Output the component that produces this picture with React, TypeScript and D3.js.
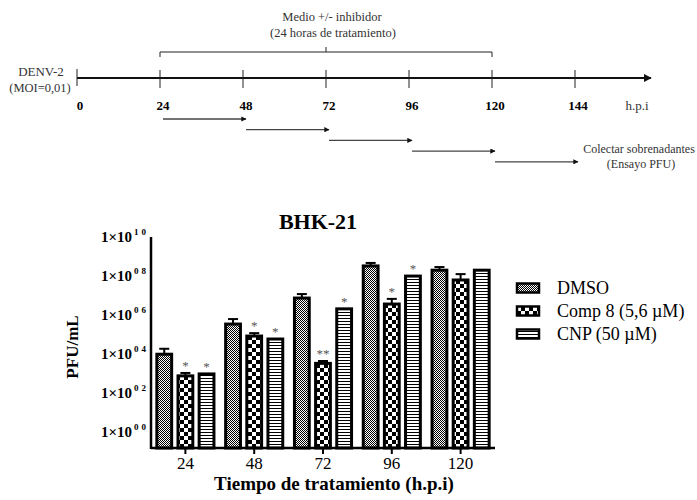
import React, { useEffect, useRef } from 'react'
import * as d3 from 'd3'

// timeline on top
const hours = [0, 24, 48, 72, 96, 120, 144]
const collectSteps = [[24, 48], [48, 72], [72, 96], [96, 120], [120, 144]]

// bar chart data
const timePoints = ['24', '48', '72', '96', '120']
const seriesKeys = ['dmso', 'comp8', 'cnp']
const seriesNames = ['DMSO', 'Comp 8 (5,6 \u00b5M)', 'CNP (50 \u00b5M)']
const dmso = [1.0e4, 3.5e5, 7.5e6, 3.3e8, 2.0e8]
const dmsoErr = [0.9e4, 2.8e5, 4.5e6, 1.4e8, 0.9e8]
const comp8 = [780, 8.5e4, 3400, 3.7e6, 6.3e7]
const comp8Err = [320, 3.5e4, 1100, 3.1e6, 6.3e7]
const cnp = [980, 6.0e4, 2.1e6, 1.0e8, 2.0e8]
const cnpErr = [0, 0, 0, 0, 0]
const comp8Stars = ['*', '*', '**', '*', '']
const cnpStars = ['*', '*', '*', '*', '']
const yExponents = [0, 2, 4, 6, 8, 10]
const yTickSup = ['00', '02', '04', '06', '08', '10']

const SERIF = '"Liberation Serif", "Times New Roman", serif'

export default function App() {
  const ref = useRef<SVGSVGElement>(null)

  useEffect(() => {
    const svg = d3.select(ref.current)
    svg.selectAll('*').remove()
    svg.style('font-family', SERIF)

    // ---------- patterns ----------
    const defs = svg.append('defs')
    const p1 = defs.append('pattern').attr('id', 'pat-dmso').attr('patternUnits', 'userSpaceOnUse')
      .attr('width', 2).attr('height', 2)
    p1.append('rect').attr('width', 2).attr('height', 2).attr('fill', '#fff')
    p1.append('rect').attr('width', 1).attr('height', 1).attr('fill', '#000')
    p1.append('rect').attr('x', 1).attr('y', 1).attr('width', 1).attr('height', 1).attr('fill', '#000')

    const p2 = defs.append('pattern').attr('id', 'pat-comp8').attr('patternUnits', 'userSpaceOnUse')
      .attr('width', 8).attr('height', 8)
    p2.append('rect').attr('width', 8).attr('height', 8).attr('fill', '#fff')
    p2.append('rect').attr('width', 4).attr('height', 4).attr('fill', '#000')
    p2.append('rect').attr('x', 4).attr('y', 4).attr('width', 4).attr('height', 4).attr('fill', '#000')

    const p3 = defs.append('pattern').attr('id', 'pat-cnp').attr('patternUnits', 'userSpaceOnUse')
      .attr('width', 4).attr('height', 3)
    p3.append('rect').attr('width', 4).attr('height', 3).attr('fill', '#fff')
    p3.append('rect').attr('width', 4).attr('height', 1).attr('fill', '#000')

    defs.append('marker').attr('id', 'head').attr('viewBox', '0 0 10 10')
      .attr('refX', 9).attr('refY', 5).attr('markerWidth', 4).attr('markerHeight', 4)
      .attr('markerUnits', 'strokeWidth').attr('orient', 'auto')
      .append('path').attr('d', 'M0,0L10,5L0,10z').attr('fill', '#111')

    // ---------- timeline ----------
    const t = d3.scaleLinear().domain([0, 144]).range([77, 575])
    const lineY = 78

    svg.append('line').attr('x1', t(0)).attr('x2', 651).attr('y1', lineY).attr('y2', lineY)
      .attr('stroke', '#111').attr('stroke-width', 2).attr('marker-end', 'url(#head)')

    svg.selectAll('.htick').data(hours).enter().append('line')
      .attr('x1', d => t(d)).attr('x2', d => t(d))
      .attr('y1', d => d === 0 ? 69 : 70).attr('y2', d => d === 0 ? 86 : 88)
      .attr('stroke', '#222').attr('stroke-width', 1)

    svg.selectAll('.hlabel').data(hours).enter().append('text')
      .attr('x', d => t(d) + 3).attr('y', 110)
      .attr('text-anchor', 'middle').attr('font-size', 13).attr('font-weight', 'bold')
      .text(d => d)
    svg.append('text').attr('x', 637).attr('y', 110).attr('text-anchor', 'middle')
      .attr('font-size', 13).attr('fill', '#333').text('h.p.i')

    svg.append('text').attr('x', 41).attr('y', 76).attr('text-anchor', 'middle')
      .attr('font-size', 13).attr('fill', '#333').text('DENV-2')
    svg.append('text').attr('x', 40).attr('y', 92).attr('text-anchor', 'middle')
      .attr('font-size', 12.5).attr('fill', '#333').text('(MOI=0,01)')

    // bracket for treatment period
    svg.append('path')
      .attr('d', `M${t(24)},57V52H${t(120)}V57M${t(72)},52V47`)
      .attr('fill', 'none').attr('stroke', '#222').attr('stroke-width', 1)
    svg.append('text').attr('x', 332).attr('y', 21).attr('text-anchor', 'middle')
      .attr('font-size', 12.5).attr('fill', '#333').text('Medio +/- inhibidor')
    svg.append('text').attr('x', 333).attr('y', 37).attr('text-anchor', 'middle')
      .attr('font-size', 12.5).attr('fill', '#333').text('(24 horas de tratamiento)')

    svg.selectAll('.collect').data(collectSteps).enter().append('line')
      .attr('x1', d => t(d[0]) + 3).attr('x2', d => t(d[1]) + 3)
      .attr('y1', (d, i) => 119 + i * 10.7).attr('y2', (d, i) => 119 + i * 10.7)
      .attr('stroke', '#444').attr('stroke-width', 1.3).attr('marker-end', 'url(#head)')

    svg.append('text').attr('x', 639).attr('y', 153).attr('text-anchor', 'middle')
      .attr('font-size', 12).attr('fill', '#333').text('Colectar sobrenadantes')
    svg.append('text').attr('x', 641).attr('y', 168).attr('text-anchor', 'middle')
      .attr('font-size', 12).attr('fill', '#333').text('(Ensayo PFU)')

    // ---------- bar chart ----------
    const left = 151, right = 495, top = 237, bottom = 448

    const x0 = d3.scaleBand().domain(timePoints).range([left, right]).paddingInner(0.17).paddingOuter(0.085)
    const x1 = d3.scaleBand().domain(seriesKeys).range([0, x0.bandwidth()]).paddingInner(0.3)
    const y = d3.scaleLog().domain([Math.pow(10, -0.8), 1e10]).range([bottom, top])

    const vals: any = { dmso, comp8, cnp }
    const errs: any = { dmso: dmsoErr, comp8: comp8Err, cnp: cnpErr }
    const stars: any = { dmso: ['', '', '', '', ''], comp8: comp8Stars, cnp: cnpStars }

    const rows = timePoints.flatMap((tp, i) => seriesKeys.map(k => ({
      tp, key: k, v: vals[k][i], e: errs[k][i], star: stars[k][i]
    })))

    const cx = (d: any) => (x0(d.tp) as number) + (x1(d.key) as number) + x1.bandwidth() / 2

    // error bars
    const eb = svg.append('g').selectAll('g').data(rows.filter(d => d.e > 0)).enter().append('g')
      .attr('stroke', '#000').attr('stroke-width', 2)
    eb.append('line').attr('x1', cx).attr('x2', cx).attr('y1', d => y(d.v)).attr('y2', d => y(d.v + d.e))
    eb.append('line').attr('x1', d => cx(d) - 5).attr('x2', d => cx(d) + 5)
      .attr('y1', d => y(d.v + d.e)).attr('y2', d => y(d.v + d.e))

    svg.append('g').selectAll('rect').data(rows).enter().append('rect')
      .attr('x', d => (x0(d.tp) as number) + (x1(d.key) as number))
      .attr('y', d => y(d.v))
      .attr('width', x1.bandwidth())
      .attr('height', d => bottom - y(d.v))
      .attr('fill', d => `url(#pat-${d.key})`)
      .attr('stroke', '#000').attr('stroke-width', 3)

    svg.append('g').selectAll('text').data(rows.filter(d => d.star)).enter().append('text')
      .attr('x', cx).attr('y', d => y(d.v + d.e) - 3)
      .attr('text-anchor', 'middle').attr('font-size', 13).attr('fill', '#555')
      .text(d => d.star)

    // axes
    svg.append('line').attr('x1', left).attr('x2', left).attr('y1', top).attr('y2', bottom + 1)
      .attr('stroke', '#000').attr('stroke-width', 2.5)
    svg.append('line').attr('x1', left).attr('x2', right).attr('y1', bottom).attr('y2', bottom)
      .attr('stroke', '#000').attr('stroke-width', 2.5)
    svg.selectAll('.xtick').data(timePoints).enter().append('line')
      .attr('x1', d => (x0(d) as number) + x0.bandwidth() / 2)
      .attr('x2', d => (x0(d) as number) + x0.bandwidth() / 2)
      .attr('y1', bottom).attr('y2', bottom + 6)
      .attr('stroke', '#000').attr('stroke-width', 2)
    svg.selectAll('.xlabel').data(timePoints).enter().append('text')
      .attr('x', d => (x0(d) as number) + x0.bandwidth() / 2).attr('y', 469)
      .attr('text-anchor', 'middle').attr('font-size', 17).text(d => d)

    const yl = svg.selectAll('.ylabel').data(yExponents).enter().append('text')
      .attr('x', 149).attr('y', d => y(Math.pow(10, d)) + 5)
      .attr('text-anchor', 'end').attr('font-weight', 'bold')
    yl.append('tspan').attr('font-size', 15).text('1\u00d710')
    yl.append('tspan').attr('font-size', 9).attr('dy', -7).attr('dx', 2)
      .attr('letter-spacing', 3)
      .text((d, i) => yTickSup[i])

    svg.append('text').attr('transform', 'translate(78,347) rotate(-90)')
      .attr('text-anchor', 'middle').attr('font-size', 17).attr('font-weight', 'bold').text('PFU/mL')

    svg.append('text').attr('x', 318).attr('y', 229).attr('text-anchor', 'middle')
      .attr('font-size', 22).attr('font-weight', 'bold').text('BHK-21')

    svg.append('text').attr('x', 334).attr('y', 490).attr('text-anchor', 'middle')
      .attr('font-size', 19).attr('font-weight', 'bold').text('Tiempo de tratamiento (h.p.i)')

    // legend
    const lg = svg.append('g').selectAll('g').data(seriesKeys).enter().append('g')
      .attr('transform', (d, i) => `translate(517,${288 + i * 23})`)
    lg.append('rect').attr('x', 0).attr('y', -4.5).attr('width', 22).attr('height', 9)
      .attr('fill', d => `url(#pat-${d})`).attr('stroke', '#000').attr('stroke-width', 2.5)
    lg.append('text').attr('x', 40).attr('y', 6).attr('font-size', 18)
      .text((d, i) => seriesNames[i])
  }, [])

  return (
    <svg ref={ref} width={697} height={500}
      style={{ position: 'absolute', left: 0, top: 0, background: '#fff' }} />
  )
}
